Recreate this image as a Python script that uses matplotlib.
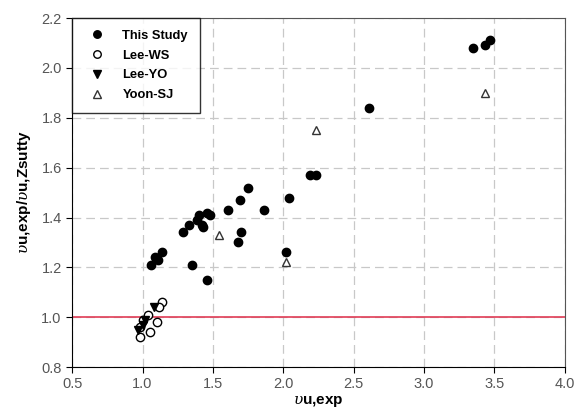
import matplotlib
matplotlib.use("Agg")
import matplotlib.pyplot as plt

# data
study_x = [1.06, 1.09, 1.11, 1.14, 1.29, 1.33, 1.40, 1.39, 1.42, 1.43, 1.46, 1.48,
           1.35, 1.46, 1.61, 1.69, 1.75, 1.70, 1.68, 1.86, 2.04, 2.02, 2.19, 2.23,
           2.61, 3.35, 3.43, 3.47]
study_y = [1.21, 1.24, 1.23, 1.26, 1.34, 1.37, 1.41, 1.39, 1.37, 1.36, 1.42, 1.41,
           1.21, 1.15, 1.43, 1.47, 1.52, 1.34, 1.30, 1.43, 1.48, 1.26, 1.57, 1.57,
           1.84, 2.08, 2.09, 2.11]
ws_x = [1.14, 1.12, 1.04, 1.10, 1.05, 0.98, 0.98, 1.00]
ws_y = [1.06, 1.04, 1.01, 0.98, 0.94, 0.96, 0.92, 0.99]
yo_x = [1.08, 1.02, 0.97, 1.00]
yo_y = [1.04, 0.99, 0.95, 0.97]
sj_x = [1.54, 2.02, 2.23, 3.43]
sj_y = [1.33, 1.22, 1.75, 1.90]

plt.rcParams['font.family'] = ['Liberation Sans', 'DejaVu Sans']
plt.rcParams['mathtext.fontset'] = 'dejavuserif'

fig = plt.figure(figsize=(5.77, 4.2), dpi=100)
ax = fig.add_axes([0.125, 0.126, 0.854, 0.831])

ax.axhline(1.0, color='#e03c55', lw=1.2, zorder=1)

ax.plot(study_x, study_y, 'o', color='black', ms=6, label='This Study', zorder=3)
ax.plot(ws_x, ws_y, 'o', mfc='white', mec='black', mew=1.0, ms=6, label='Lee-WS', zorder=3)
ax.plot(yo_x, yo_y, 'v', color='black', ms=6, label='Lee-YO', zorder=4)
ax.plot(sj_x, sj_y, '^', mfc='white', mec='#333333', mew=1.0, ms=6, label='Yoon-SJ', zorder=3)

ax.set_xlim(0.5, 4.0)
ax.set_ylim(0.8, 2.2)
ax.set_xticks([0.5, 1.0, 1.5, 2.0, 2.5, 3.0, 3.5, 4.0])
ax.set_yticks([0.8, 1.0, 1.2, 1.4, 1.6, 1.8, 2.0, 2.2])
ax.set_xticklabels(['0.5', '1.0', '1.5', '2.0', '2.5', '3.0', '3.5', '4.0'])
ax.set_yticklabels(['0.8', '1.0', '1.2', '1.4', '1.6', '1.8', '2.0', '2.2'])
ax.tick_params(direction='out', length=4, labelsize=10.5, labelcolor='#555555')
ax.grid(True, ls=(0, (7, 4)), color='#c8c8c8', lw=0.9)
ax.set_axisbelow(True)

for s in ['top', 'right']:
    ax.spines[s].set_color('#555555')

ax.set_xlabel(r'$\mathit{\upsilon}$u,exp', fontsize=11, fontweight='bold', labelpad=2)
ax.set_ylabel(r'$\mathit{\upsilon}$u,exp/$\mathit{\upsilon}$u,Zsutty', fontsize=11,
              fontweight='bold', labelpad=6)

leg = ax.legend(loc='upper left', bbox_to_anchor=(0, 1), borderaxespad=0,
                frameon=True, fancybox=False, edgecolor='black',
                prop={'weight': 'bold', 'size': 9.3}, handletextpad=1.0,
                labelspacing=0.6, borderpad=0.9, markerscale=0.9)
leg.get_frame().set_linewidth(1.0)

fig.savefig('out.png', dpi=100)
